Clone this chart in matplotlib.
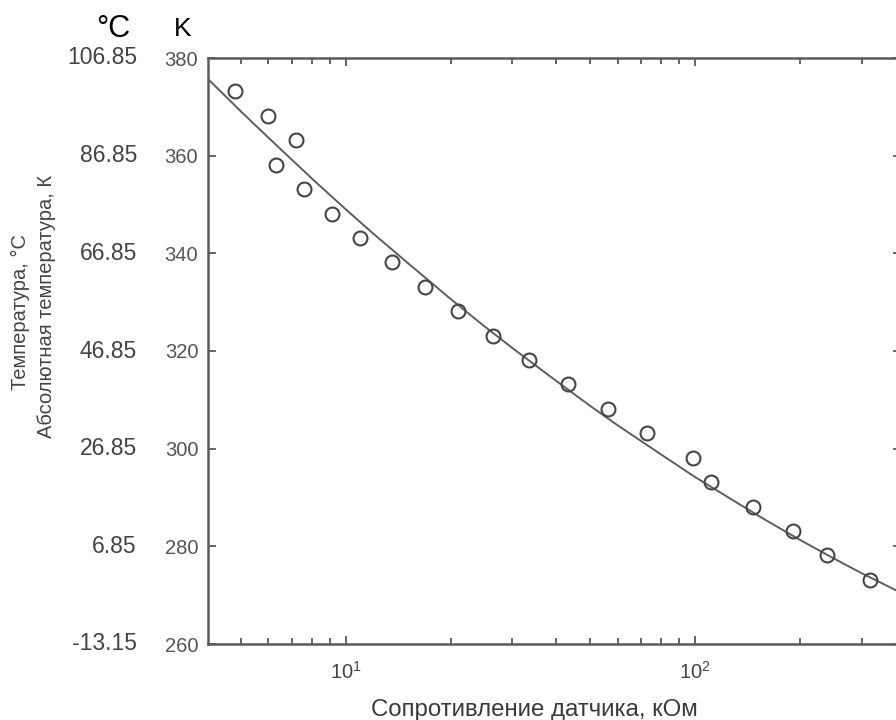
import matplotlib

matplotlib.use("Agg")

import matplotlib.pyplot as plt
from matplotlib.ticker import FixedLocator, LogLocator, NullFormatter

# measured points: sensor resistance (kOhm) and absolute temperature (K)
resistance = [4.83, 5.99, 7.19, 6.33, 7.60, 9.10, 10.99, 13.57, 16.81, 20.98, 26.43,
              33.5, 43.35, 56.2, 72.7, 98.9, 110.9, 146.3, 190.5, 238.5, 317]
temperature = [373.15, 368.15, 363.15, 358.15, 353.15, 348.15, 343.15, 338.15, 333.15,
               328.15, 323.15, 318.15, 313.15, 308.15, 303.15, 298.15, 293.15, 288.15,
               283.15, 278.15, 273.15]

# fitted curve
fit_resistance = [4.03, 5, 6, 7, 8, 10, 12, 15, 20, 25, 30, 40, 50, 60, 80, 100,
                  130, 160, 200, 250, 300, 389]
fit_temperature = [375.7, 369.1, 363.7, 359.2, 355.3, 349.0, 344.0, 338.1, 330.6, 325.0,
                   320.6, 313.9, 308.8, 304.8, 298.8, 294.2, 289.2, 285.3, 281.3, 277.5,
                   274.5, 270.5]

kelvin_ticks = [260, 280, 300, 320, 340, 360, 380]
celsius_labels = ["-13.15", "6.85", "26.85", "46.85", "66.85", "86.85", "106.85"]

W, H = 896, 720
fig = plt.figure(figsize=(W / 100, H / 100), dpi=100)
plt.rcParams["mathtext.default"] = "regular"

left, right, top, bottom = 208, 901, 58, 644
ax = fig.add_axes([left / W, 1 - bottom / H, (right - left) / W, (bottom - top) / H])

grey = "#5a5a5a"
ax.plot(fit_resistance, fit_temperature, color="#5e5e5e", lw=1.4, zorder=2)
ax.plot(resistance, temperature, linestyle="none", marker="o", markersize=10,
        markerfacecolor="none", markeredgecolor="#454545", markeredgewidth=1.5, zorder=3)

ax.set_xscale("log")
ax.set_xlim(4.03, 389)
ax.set_ylim(260, 380)
ax.yaxis.set_major_locator(FixedLocator(kelvin_ticks))
ax.xaxis.set_minor_locator(LogLocator(base=10, subs=range(2, 10)))
ax.xaxis.set_minor_formatter(NullFormatter())

for sp in ax.spines.values():
    sp.set_color(grey)
    sp.set_linewidth(1.8)

ax.tick_params(which="both", direction="in", top=True, right=True, color=grey, width=1.3)
ax.tick_params(which="major", length=6)
ax.tick_params(which="minor", length=4)
ax.tick_params(axis="y", labelsize=14.5, labelcolor="#555555", pad=7)
ax.tick_params(axis="x", labelsize=14.5, labelcolor="#444444", pad=12)
for lab in ax.get_yticklabels() + ax.get_xticklabels():
    lab.set_family(["Liberation Sans Narrow", "Liberation Sans"])

# celsius scale to the left of the kelvin labels
for k, c in zip(kelvin_ticks, celsius_labels):
    ax.text(-0.1025, k, c, transform=ax.get_yaxis_transform(), ha="right", va="center",
            fontsize=16.5, color="#444444", family="Liberation Sans")

fig.text(113 / W, 1 - 29 / H, "°C", fontsize=22, ha="center", va="center",
         family="Liberation Sans", color="black")
fig.text(183 / W, 1 - 29 / H, "K", fontsize=19, ha="center", va="center",
         family="Liberation Sans", color="black")

fig.text(20 / W, 1 - 312 / H, "Температура, °C", rotation=90, fontsize=14.5,
         ha="center", va="center", family="Liberation Sans", color="#444444")
fig.text(47 / W, 1 - 306 / H, "Абсолютная температура, К", rotation=90, fontsize=14.5,
         ha="center", va="center", family="Liberation Sans", color="#444444")
fig.text(534 / W, 1 - 710 / H, "Сопротивление датчика, кОм", fontsize=17.3,
         ha="center", va="center", family="Liberation Sans", color="#3a3a3a")

fig.savefig("out.png", dpi=100)
plt.close(fig)
